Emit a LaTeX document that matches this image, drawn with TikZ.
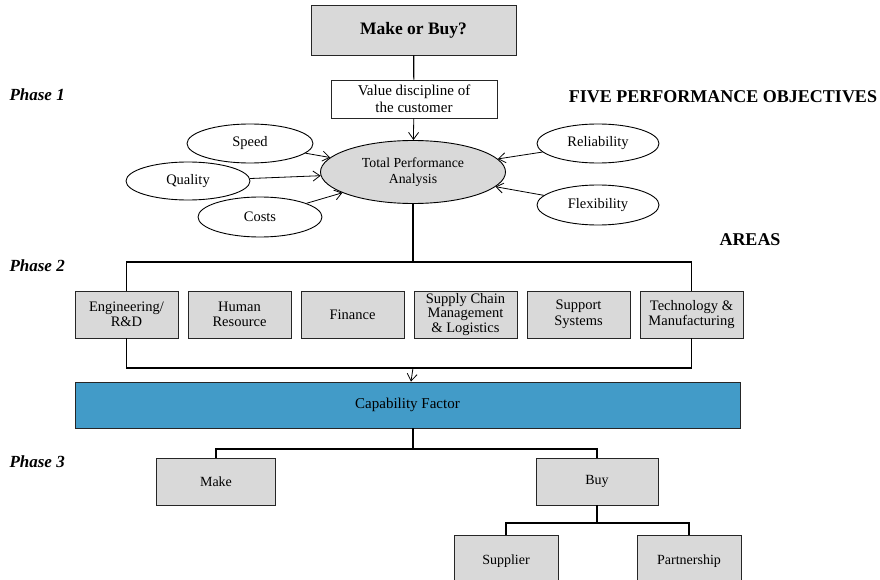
\documentclass[tikz,border=0pt]{standalone}
\usepackage{fontspec}
\setmainfont{Liberation Serif}
\usetikzlibrary{shapes.geometric,arrows.meta}
\definecolor{boxgray}{RGB}{217,217,217}
\definecolor{capblue}{RGB}{66,155,200}
\begin{document}
\begin{tikzpicture}[x=1pt,y=-1pt,
  box/.style={draw=black!85, line width=0.9pt, fill=boxgray, align=center, inner sep=0pt, font=\fontsize{14}{15}\selectfont},
  area/.style={box, minimum width=103, minimum height=47, font=\fontsize{14.5}{15.5}\selectfont},
  obj/.style={draw, ellipse, line width=0.9pt, inner sep=0pt, font=\fontsize{14.5}{15}\selectfont},
  conn/.style={line width=1.8pt},
  thin/.style={line width=1.2pt},
  arr/.style={line width=0.8pt, -{Straight Barb[length=7pt,width=10pt]}},
  phase/.style={font=\fontsize{17}{18}\selectfont\bfseries\itshape, anchor=west},
  head/.style={font=\fontsize{18}{19}\selectfont\bfseries}
]
\useasboundingbox (0,0) rectangle (880,580);
\clip (0,0) rectangle (880,580);

% Phase labels and headings
\node[phase] (p1) at (6,95) {Phase 1};
\node[phase] (p2) at (6,266) {Phase 2};
\node[phase] (p3) at (6,462) {Phase 3};
\node[head] (fpo) at (723,97) {FIVE PERFORMANCE OBJECTIVES};
\node[head] (areas) at (750,240) {AREAS};

% Phase 1
\node[box, minimum width=205, minimum height=50, font=\fontsize{17.5}{18}\selectfont\bfseries] (mob) at (413.5,30) {Make or Buy?};
\node[box, fill=white, minimum width=166, minimum height=38, font=\fontsize{15}{17}\selectfont] (vd) at (414,99) {Value discipline of\\the customer};
\node[obj, fill=boxgray, minimum width=185, minimum height=63, align=center, font=\fontsize{13.8}{16}\selectfont] (tpa) at (413,172) {Total Performance\\Analysis};
\node[obj, minimum width=126, minimum height=39] (speed) at (250,143.5) {Speed};
\node[obj, minimum width=124, minimum height=38] (quality) at (188,181) {Quality};
\node[obj, minimum width=124, minimum height=40] (costs) at (260,217) {Costs};
\node[obj, minimum width=122, minimum height=39] (rel) at (598,143.5) {Reliability};
\node[obj, minimum width=122, minimum height=40] (flex) at (598,205) {Flexibility};

\draw[thin] (mob) -- (vd);
\draw[arr] (vd) -- (tpa);
\draw[arr] (speed) -- (tpa);
\draw[arr] (quality) -- (tpa);
\draw[arr] (costs) -- (tpa);
\draw[arr] (rel) -- (tpa);
\draw[arr] (flex) -- (tpa);

% Phase 2
\coordinate (ab) at (413,262);
\node[area] (eng) at (126.5,314.5) {Engineering/\\R\&D};
\node[area] (hr) at (239.5,314.5) {Human\\Resource};
\node[area] (fin) at (352.5,314.5) {Finance};
\node[area, font=\fontsize{14.5}{14.5}\selectfont] (scm) at (465.5,314.5) {Supply Chain\\Management\\\& Logistics};
\node[area] (sup) at (578.5,314.5) {Support\\Systems};
\node[area] (tech) at (691.5,314.5) {Technology \&\\Manufacturing};

\draw[conn] (tpa.south) -- (ab);
\draw[conn] (eng.north) |- (ab) -| (tech.north);
\coordinate (bb) at (413,368);
\draw[conn] (eng.south) |- (bb) -| (tech.south);

\node[box, fill=capblue, minimum width=665, minimum height=46, font=\fontsize{15}{16}\selectfont] (cap) at (407.5,405) {Capability Factor};
\draw[arr] (bb) -- (cap);

% Phase 3
\coordinate (cb) at (413,449);
\node[box, minimum width=119, minimum height=47] (make) at (216,481.5) {Make};
\node[box, minimum width=122, minimum height=47] (buy) at (597,481.5) {Buy};
\draw[conn] (cap.south -| cb) -- (cb);
\draw[conn] (make.north) |- (cb) -| (buy.north);

\coordinate (sb) at (597,523);
\node[box, minimum width=104, minimum height=52] (supp) at (506,561) {Supplier};
\node[box, minimum width=104, minimum height=52] (part) at (689,561) {Partnership};
\draw[conn] (buy) -- (sb);
\draw[conn] (supp.north) |- (sb) -| (part.north);
\end{tikzpicture}
\end{document}
